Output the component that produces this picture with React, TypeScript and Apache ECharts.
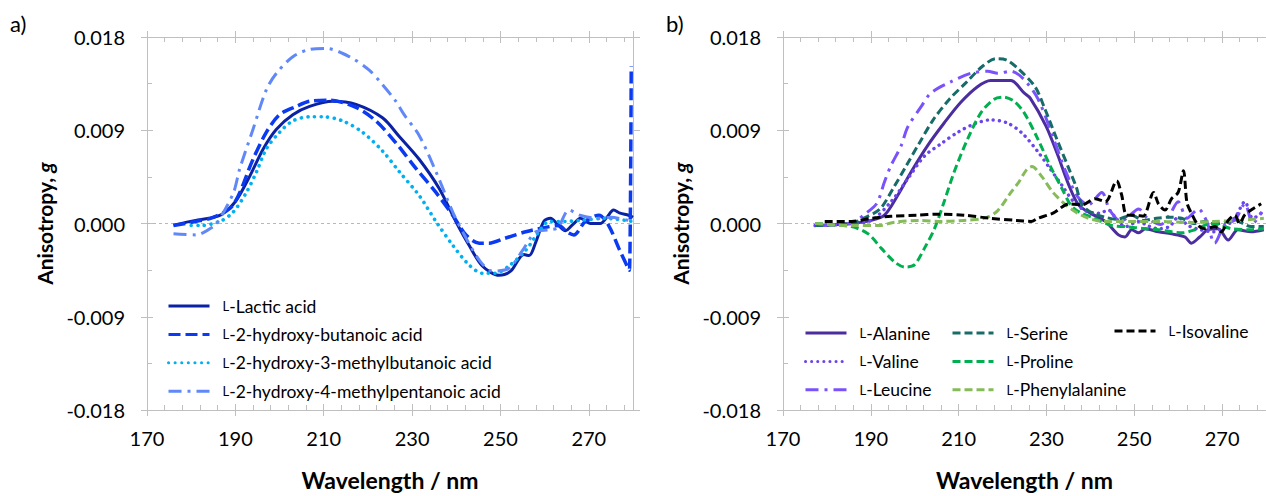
import React, { useEffect, useRef } from 'react';
import * as echarts from 'echarts';

const FONT = 'Lato, "Open Sans", "DejaVu Sans", sans-serif';
const GRAY = '#bfbfbf';

// ---- axes / tick labels ----
const xMin = 170;
const xMax = 280;
const xMajor = 20;
const xMinor = 4;
const xTickLabels = ['170', '190', '210', '230', '250', '270'];
const yTickLabels = ['-0.018', '-0.009', '0.000', '0.009', '0.018'];
const yMin = -0.018;
const yMax = 0.018;
const yMajor = 0.009;
const yMinorStep = 0.0045;

// ---- panel a) series names ----
const panelANames = [
  'L-Lactic acid',
  'L-2-hydroxy-butanoic acid',
  'L-2-hydroxy-3-methylbutanoic acid',
  'L-2-hydroxy-4-methylpentanoic acid',
];

// [wavelength nm, anisotropy g]
const lactic = [
  [176, -0.00016], [181, 0.0003], [184, 0.0005], [187, 0.0009], [190, 0.0021], [193.3, 0.0046],
  [196.3, 0.0072], [199.3, 0.0091], [203, 0.0105], [206.8, 0.0113], [212, 0.0118], [217.3, 0.0115],
  [223.3, 0.0102], [227.1, 0.0084], [231.6, 0.0062], [236.1, 0.0034], [239.9, 0.0002], [242.9, -0.0021],
  [245.9, -0.0041], [249.7, -0.005], [252.3, -0.0046], [254.2, -0.0034], [255.3, -0.003], [256.5, -0.0031],
  [258, -0.0018], [259.8, 0.0002], [261.3, 0.0005], [263.2, -0.0002], [264.7, -0.0007], [266.6, 0],
  [268.1, 0.0005], [270.4, 0], [272.6, 0], [274.1, 0.0006], [275.6, 0.0013], [277.1, 0.001],
  [279, 0.0008], [280, 0.0006],
];
const butanoic = [
  [176, -0.0002], [181, 0.0002], [185, 0.0006], [189.5, 0.0018], [194, 0.0062], [197, 0.0088],
  [200, 0.0105], [203.8, 0.0113], [206.8, 0.0118], [211.3, 0.0119], [217.3, 0.0112], [221.8, 0.0099],
  [226.3, 0.0078], [230.9, 0.0053], [235.4, 0.003], [239.2, 0.0008], [242.2, -0.0011], [245.2, -0.0019],
  [247.4, -0.0019], [251.2, -0.0014], [255.7, -0.0008], [258.7, -0.0005], [263.2, -0.0002], [265, -0.0008],
  [266.6, -0.0011], [269.2, 0.0002], [272.3, 0.0008], [274.5, -0.0002], [276.8, -0.0024], [278.9, -0.0043],
  [279.2, -0.0045], [279.6, 0.0152],
];
const methylbutanoic = [
  [180, -0.0002], [182, -0.0002], [186.5, 0.0002], [189.5, 0.0011], [192.5, 0.003], [194.8, 0.005],
  [197, 0.0072], [200, 0.0088], [203, 0.0099], [206.8, 0.0103], [209.8, 0.0103], [214.3, 0.0099],
  [218.8, 0.0088], [223.3, 0.007], [227.1, 0.005], [231.6, 0.0027], [235.4, 0.0002], [239.2, -0.0021],
  [242.9, -0.004], [245.9, -0.0048], [248.9, -0.0048], [251.9, -0.0041], [255.7, -0.0026], [258.7, -0.0008],
  [261, 0.0002], [264.7, 0.0002], [268, 0.0003], [273.8, 0.0005], [279.8, 0.0002],
];
const methylpentanoic = [
  [176, -0.001], [181.2, -0.0011], [183.5, -0.0007], [185.7, 0], [189.5, 0.0029], [191, 0.0053],
  [194, 0.0091], [197, 0.0129], [199.3, 0.0145], [203, 0.0161], [206.8, 0.0168], [210.5, 0.0169],
  [215.8, 0.0161], [220.3, 0.0148], [223.3, 0.0134], [226.3, 0.0118], [228.2, 0.0105], [231.6, 0.0085],
  [235.4, 0.005], [239.2, 0.0011], [242.2, -0.0014], [245.5, -0.0037], [248.2, -0.0046], [252, -0.0043],
  [255, -0.0026], [258, -0.0008], [261, -0.0006], [263, -0.0004], [265.5, 0.0013], [268, 0.0008],
  [272.3, 0.0005], [275, 0.0006], [279.8, 0.0002],
];

// ---- panel b) series names ----
const panelBCol1 = ['L-Alanine', 'L-Valine', 'L-Leucine'];
const panelBCol2 = ['L-Serine', 'L-Proline', 'L-Phenylalanine'];
const panelBCol3 = ['L-Isovaline'];

const alanine = [
  [177.3, -0.0002], [185.6, 0], [190.1, 0.0003], [193.1, 0.0008], [196.1, 0.0027], [199.2, 0.005],
  [202.9, 0.0075], [206.7, 0.0097], [210.5, 0.0117], [214.3, 0.0132], [217.3, 0.0138], [221.9, 0.0138],
  [224.9, 0.0126], [226.3, 0.0121], [229.9, 0.0094], [232.4, 0.0068], [235.1, 0.0037], [237.3, 0.0018],
  [240, 0.001], [243.4, 0.0002], [246.4, -0.0011], [247.9, -0.0013], [249.4, -0.0006], [251, -0.0009],
  [252.5, -0.0005], [255.5, -0.0008], [258.5, -0.001], [261.5, -0.0013], [263, -0.0019], [264.9, -0.0013],
  [266.8, -0.0006], [269.1, -0.0005], [271.4, -0.0016], [273.6, -0.0006], [276.6, -0.0008], [279.5, -0.0006],
];
const valine = [
  [177.3, -0.0002], [185.6, 0], [190.1, 0.0003], [194.6, 0.0021], [198.4, 0.0043], [202.2, 0.0065],
  [206, 0.0077], [209.8, 0.0088], [213.5, 0.0096], [217.3, 0.01], [221.1, 0.0097], [224.5, 0.0087],
  [228.1, 0.0069], [230.8, 0.0053], [233.5, 0.0037], [236.2, 0.0021], [239, 0.0012], [242, 0.001],
  [244.1, 0.0013], [246, 0.0004], [248, -0.0003], [251, 0.0002], [253, -0.0002], [255.5, -0.0005],
  [258, -0.0003], [260, 0.0006], [262.3, -0.0002], [265, -0.0006], [268, -0.0008], [270.5, -0.0004],
  [273, 0.0006], [275.2, 0.0021], [277, 0.0005], [279.5, 0.0012],
];
const leucine = [
  [177.3, -0.0002], [185.6, 0], [188.3, 0.0008], [191.3, 0.0019], [193.1, 0.004], [194.6, 0.0056],
  [196.9, 0.0075], [198.4, 0.0093], [201.5, 0.0113], [203.7, 0.0126], [208.3, 0.0137], [212.8, 0.0145],
  [216.6, 0.0147], [218.9, 0.0145], [221.9, 0.0147], [224.9, 0.0139], [228.1, 0.012], [231.7, 0.0081],
  [234.4, 0.005], [237.1, 0.0026], [239.5, 0.0018], [242.6, 0.003], [244.4, 0.0013], [247, 0.0002],
  [249, 0.0008], [251, 0.0014], [253, 0.0005], [256, -0.0001], [258, 0.0008], [260, 0.0021],
  [262, 0.0005], [264.6, 0.0014], [266.5, 0.0002], [268.3, -0.0019], [270.5, -0.0002], [273, 0.0004],
  [275.2, 0.0019], [277, 0], [279, 0.0011],
];
const serine = [
  [177.3, -0.0002], [185.6, 0], [188.3, 0.0005], [192.1, 0.0014], [195.1, 0.0034], [198.1, 0.0056],
  [201.1, 0.0078], [204.2, 0.01], [207.9, 0.012], [211.7, 0.0136], [215.5, 0.0152], [218.5, 0.0159],
  [220.8, 0.0158], [223.4, 0.015], [227.4, 0.0132], [229.7, 0.011], [232.4, 0.0081], [235.1, 0.0053],
  [236.8, 0.0035], [238.1, 0.0018], [240.5, 0.001], [243.4, 0.0006], [246, 0.0004], [249.4, 0.0008],
  [252, 0.0003], [255, 0.0005], [257.8, 0.0006], [260.8, 0.0005], [263.5, 0], [266.1, 0.0002],
  [269, 0], [272.9, 0.0003], [276.6, -0.0003], [279.5, -0.0003],
];
const proline = [
  [177.3, 0], [185.6, -0.0003], [189.4, -0.001], [192.4, -0.0024], [195.4, -0.0037], [197.7, -0.0042],
  [199.9, -0.004], [202.2, -0.0024], [204.5, -0.0005], [206.7, 0.0021], [209, 0.005], [212, 0.0081],
  [215.1, 0.0107], [218.1, 0.012], [220.3, 0.0122], [222.6, 0.0118], [224.9, 0.0107], [228.1, 0.0081],
  [230.8, 0.0056], [233.5, 0.0034], [235.5, 0.0018], [237.5, 0.0011], [240.4, 0.0006], [244.9, -0.0002],
  [248, -0.0003], [252.5, -0.0005], [255.5, -0.0006], [258.5, -0.0008], [261, -0.0009], [263.8, -0.0006],
  [267.6, 0], [272.2, -0.0005], [276.6, -0.0006], [279.5, -0.0005],
];
const phenylalanine = [
  [177.3, 0], [185.6, -0.0002], [192.1, -0.0002], [195.1, 0.0001], [201.1, 0.0003], [206, 0.0002],
  [211.2, 0.0003], [215.8, 0.0005], [218.8, 0.0012], [221.9, 0.003], [223.7, 0.004], [225.5, 0.0052],
  [226.7, 0.0055], [229, 0.0045], [231.5, 0.003], [234.4, 0.0018], [237.1, 0.001], [239.6, 0.0005],
  [243, 0.0002], [250, 0.0002], [256, 0.0002], [262, 0.0001], [268, 0.0002], [274, 0.0003], [279.5, 0.0005],
];
const isovaline = [
  [179.5, 0.0002], [185.6, 0.0002], [190.1, 0.0005], [194.6, 0.0007], [200.6, 0.0008], [205.2, 0.0009],
  [211.2, 0.0008], [217.2, 0.0005], [223.1, 0.0003], [226.5, 0.0002], [228, 0.0005], [231.5, 0.001],
  [235.2, 0.0019], [238.1, 0.0018], [241.1, 0.0024], [243.4, 0.0021], [246, 0.0041], [247.1, 0.0028],
  [248.3, 0.0008], [250.1, 0.0008], [252, 0.0007], [254.4, 0.003], [255.5, 0.0019], [257, 0.0013],
  [258.5, 0.0024], [260, 0.003], [261.2, 0.0051], [262, 0.002], [263, 0.001], [264.6, -0.0002],
  [266.1, -0.0005], [268.4, -0.0003], [269.8, -0.0008], [271.4, 0.0003], [272.9, 0.0008], [274, 0],
  [275.1, 0.0008], [276.6, 0.0013], [278.9, 0.0019],
];

const legendFmt = (name: string) => `{sc|${name.charAt(0)}}{t|${name.slice(1)}}`;
const legendRich = {
  sc: { fontFamily: FONT, fontSize: 13, color: '#000', lineHeight: 20 },
  t: { fontFamily: FONT, fontSize: 17.5, color: '#000', lineHeight: 20 },
};

function xAxesFor(g: number) {
  const base = {
    gridIndex: g, type: 'value', min: xMin, max: xMax,
    splitLine: { show: false },
    axisLine: { show: true, onZero: false, lineStyle: { color: GRAY, width: 1 } },
  };
  const tick = (inside: boolean, length: number) => ({ show: true, inside, length, lineStyle: { color: GRAY, width: 1 } });
  const noLabel = { show: false };
  return [
    {
      ...base, position: 'bottom', interval: xMajor, axisTick: tick(false, 6),
      axisLabel: {
        show: true, margin: 18, fontSize: 20, color: '#000', fontFamily: FONT, showMaxLabel: false,
        formatter: (v: number) => (xTickLabels.includes(String(v)) ? String(v) : ''),
      },
      name: 'Wavelength / nm', nameLocation: 'middle', nameGap: 58,
      nameTextStyle: { fontFamily: FONT, fontSize: 23, fontWeight: 'bold', color: '#000' },
    },
    { ...base, position: 'bottom', interval: xMajor, axisTick: tick(true, 6), axisLabel: noLabel },
    { ...base, position: 'bottom', interval: xMinor, axisTick: tick(true, 5), axisLabel: noLabel },
    { ...base, position: 'top', interval: xMajor, axisTick: tick(false, 6), axisLabel: noLabel },
    { ...base, position: 'top', interval: xMajor, axisTick: tick(true, 6), axisLabel: noLabel },
    { ...base, position: 'top', interval: xMinor, axisTick: tick(true, 5), axisLabel: noLabel },
  ];
}

function yAxesFor(g: number) {
  const base = {
    gridIndex: g, type: 'value', min: yMin, max: yMax,
    splitLine: { show: false },
    axisLine: { show: true, onZero: false, lineStyle: { color: GRAY, width: 1 } },
  };
  const tick = (inside: boolean, length: number) => ({ show: true, inside, length, lineStyle: { color: GRAY, width: 1 } });
  const noLabel = { show: false };
  return [
    {
      ...base, position: 'left', interval: yMajor, axisTick: tick(false, 6),
      axisLabel: {
        show: true, margin: 22, fontSize: 20, color: '#000', fontFamily: FONT,
        formatter: (v: number) => {
          const s = v.toFixed(3);
          const f = s === '-0.000' ? '0.000' : s;
          return yTickLabels.includes(f) ? f : '';
        },
      },
      name: '{b|Anisotropy, }{i|g}', nameLocation: 'middle', nameGap: 92, nameRotate: 90,
      nameTextStyle: {
        rich: {
          b: { fontFamily: FONT, fontSize: 21, fontWeight: 'bold', color: '#000' },
          i: { fontFamily: FONT, fontSize: 21, fontWeight: 'bold', fontStyle: 'italic', color: '#000' },
        },
      },
    },
    { ...base, position: 'left', interval: yMajor, axisTick: tick(true, 6), axisLabel: noLabel },
    { ...base, position: 'left', interval: yMinorStep, axisTick: tick(true, 5), axisLabel: noLabel },
    { ...base, position: 'right', interval: yMajor, axisTick: tick(false, 7), axisLabel: noLabel },
  ];
}

type Sty = { color: string; width: number; dash: any; cap?: string };

function line(name: string, data: number[][], s: Sty, xi: number, yi: number, zero: boolean) {
  const ser: any = {
    name, type: 'line', xAxisIndex: xi, yAxisIndex: yi, data, symbol: 'none', showSymbol: false,
    smooth: 0.3,
    color: s.color,
    lineStyle: { color: s.color, width: s.width, type: s.dash, cap: s.cap || 'butt', join: 'round' },
    z: 3,
  };
  if (zero) {
    ser.markLine = {
      silent: true, symbol: 'none', z: 1, animation: false,
      label: { show: false },
      lineStyle: { color: '#b8b8b8', width: 1, type: [3, 3] },
      data: [{ yAxis: 0 }],
    };
  }
  return ser;
}

export default function App() {
  const ref = useRef<HTMLDivElement>(null);
  useEffect(() => {
    if (!ref.current) return;
    const chart = echarts.init(ref.current, undefined, { renderer: 'svg' });
    const DOT = [0.1, 6.5];
    const DASHDOT = [13, 6, 3, 6];
    const DASH = [8, 4];
    const series = [
      line(panelANames[0], lactic, { color: '#0b22a5', width: 3, dash: 'solid' }, 0, 0, true),
      line(panelANames[1], butanoic, { color: '#0a3af2', width: 3.5, dash: [12, 5] }, 0, 0, false),
      line(panelANames[2], methylbutanoic, { color: '#00b0f0', width: 3.6, dash: DOT, cap: 'round' }, 0, 0, false),
      line(panelANames[3], methylpentanoic, { color: '#6088f8', width: 3, dash: DASHDOT }, 0, 0, false),

      line(panelBCol1[0], alanine, { color: '#4b2d9f', width: 3, dash: 'solid' }, 6, 4, true),
      line(panelBCol1[1], valine, { color: '#6a44ee', width: 3.4, dash: [0.1, 6], cap: 'round' }, 6, 4, false),
      line(panelBCol1[2], leucine, { color: '#7a52fb', width: 3, dash: DASHDOT }, 6, 4, false),
      line(panelBCol2[0], serine, { color: '#176c69', width: 3, dash: DASH }, 6, 4, false),
      line(panelBCol2[1], proline, { color: '#00b050', width: 3, dash: DASH }, 6, 4, false),
      line(panelBCol2[2], phenylalanine, { color: '#86bb5a', width: 3, dash: DASH }, 6, 4, false),
      line(panelBCol3[0], isovaline, { color: '#000000', width: 3, dash: DASH }, 6, 4, false),
    ];
    const legendBase = {
      orient: 'vertical', itemWidth: 41, itemHeight: 14, itemGap: 10.4, selectedMode: false,
      itemStyle: { color: 'rgba(0,0,0,0)', borderColor: 'rgba(0,0,0,0)', borderWidth: 0 },
      lineStyle: { width: 3 },
      formatter: legendFmt, padding: 0,
      textStyle: { fontFamily: FONT, fontSize: 17.5, color: '#000', padding: [0, 0, 0, 8], rich: legendRich },
    };
    chart.setOption({
      animation: false,
      backgroundColor: '#ffffff',
      textStyle: { fontFamily: FONT },
      grid: [
        { left: 147, top: 37, width: 486, height: 376, containLabel: false },
        { left: 783, top: 37, width: 485, height: 376, containLabel: false },
      ],
      xAxis: [...xAxesFor(0), ...xAxesFor(1)],
      yAxis: [...yAxesFor(0), ...yAxesFor(1)],
      legend: [
        { ...legendBase, left: 167, top: 297, data: panelANames },
        { ...legendBase, left: 804, top: 324, data: panelBCol1 },
        { ...legendBase, left: 951, top: 324, data: panelBCol2 },
        { ...legendBase, left: 1113, top: 322, data: panelBCol3 },
      ],
      graphic: [
        { type: 'text', left: 10, top: 12, style: { text: 'a)', fontFamily: FONT, fontSize: 22, fill: '#000' } },
        { type: 'text', left: 666, top: 12, style: { text: 'b)', fontFamily: FONT, fontSize: 22, fill: '#000' } },
      ],
      series,
    });
    return () => chart.dispose();
  }, []);
  return (
    <div
      ref={ref}
      style={{ position: 'absolute', left: 0, top: 0, width: 1266, height: 496, background: '#fff' }}
    />
  );
}
